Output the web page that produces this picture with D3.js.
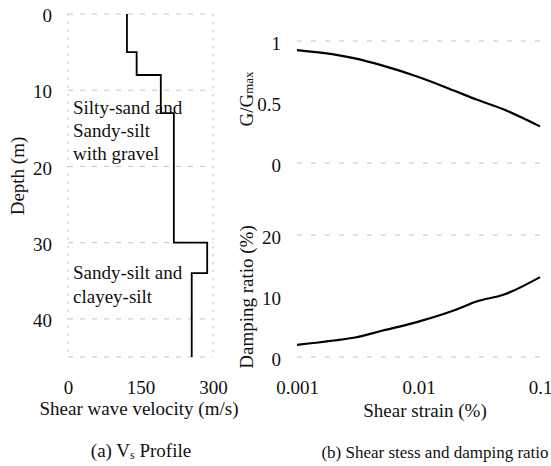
<!DOCTYPE html>
<html>
<head>
<meta charset="utf-8">
<script src="https://cdn.jsdelivr.net/npm/d3@7"></script>
</head>
<body style="margin:0;background:#fff">
<svg id="chart" width="551" height="466"></svg>
<script>
// Vs profile: layer tops/bottoms (m) and shear wave velocity (m/s)
const layerTop    = [0, 5, 8, 13, 30, 34];
const layerBottom = [5, 8, 13, 30, 34, 45];
const layerVs     = [122, 142, 192, 219, 288, 256];
const depthTicks  = [0, 10, 20, 30, 40];
const vsTicks     = [0, 150, 300];

// Modulus reduction and damping curves vs shear strain (%)
const strain   = [0.001, 0.002, 0.003, 0.005, 0.01, 0.02, 0.03, 0.05, 0.1];
const gRatio   = [0.925, 0.89, 0.857, 0.80, 0.705, 0.59, 0.52, 0.44, 0.30];
const damping  = [2.0, 2.7, 3.2, 4.3, 5.8, 7.7, 9.1, 10.2, 13.1];
const strainTicks  = [0.001, 0.01, 0.1];
const gTicks       = [0, 0.5, 1];
const dampingTicks = [0, 10, 20];

const svg = d3.select("#chart");
const gridColor = "#c4c4c4";
const fs = 19;

function styleText(sel, size) {
  sel.attr("font-family", "Liberation Serif").attr("font-size", size).attr("fill", "#111");
}

// ---------- (a) Vs profile ----------
const xVs = d3.scaleLinear().domain([0, 300]).range([68, 213]);
const yD  = d3.scaleLinear().domain([0, 45]).range([14, 357]);

const a = svg.append("g");
a.append("g").selectAll("line").data(depthTicks.concat([45])).join("line")
  .attr("x1", xVs(0)).attr("x2", xVs(300))
  .attr("y1", d => yD(d)).attr("y2", d => yD(d))
  .attr("stroke", gridColor).attr("stroke-width", 1).attr("stroke-dasharray", "5,7");
a.append("g").selectAll("line").data([0, 300]).join("line")
  .attr("x1", d => xVs(d)).attr("x2", d => xVs(d))
  .attr("y1", yD(0)).attr("y2", yD(45))
  .attr("stroke", gridColor).attr("stroke-width", 1).attr("stroke-dasharray", "2,6");

// step profile
const stepPts = [];
layerVs.forEach((v, i) => {
  stepPts.push([v, layerTop[i]]);
  stepPts.push([v, layerBottom[i]]);
});
a.append("path")
  .attr("d", d3.line().x(d => xVs(d[0])).y(d => yD(d[1]))(stepPts))
  .attr("fill", "none").attr("stroke", "#000").attr("stroke-width", 1.8);

const yAxisA = d3.axisLeft(yD).tickValues(depthTicks).tickSize(0).tickPadding(0);
a.append("g").attr("transform", "translate(52,1)").call(yAxisA)
  .call(g => g.select(".domain").remove())
  .selectAll("text").attr("dy", "0.35em").call(styleText, fs);
const xAxisA = d3.axisBottom(xVs).tickValues(vsTicks).tickSize(0).tickPadding(0);
a.append("g").attr("transform", "translate(0,379)").call(xAxisA)
  .call(g => g.select(".domain").remove())
  .selectAll("text").attr("dy", "0.8em").call(styleText, fs);

a.append("text").attr("transform", "translate(24,176) rotate(-90)")
  .attr("text-anchor", "middle").call(styleText, fs).text("Depth (m)");
a.append("text").attr("x", 139).attr("y", 415).attr("text-anchor", "middle")
  .call(styleText, fs).text("Shear wave velocity (m/s)");

// soil descriptions
const soil1 = ["Silty-sand and", "Sandy-silt", "with gravel"];
a.append("text").call(styleText, fs)
  .selectAll("tspan").data(soil1).join("tspan")
  .attr("x", 73).attr("y", (d, i) => 114 + i * 23).text(d => d);
const soil2 = ["Sandy-silt and", "clayey-silt"];
a.append("text").call(styleText, fs)
  .selectAll("tspan").data(soil2).join("tspan")
  .attr("x", 73).attr("y", (d, i) => 279 + i * 24).text(d => d);

const capA = a.append("text").attr("x", 141).attr("y", 457).attr("text-anchor", "middle").call(styleText, 19);
capA.append("tspan").text("(a) V");
capA.append("tspan").attr("font-size", 12).attr("dy", 2).text("s");
capA.append("tspan").attr("dy", -2).text(" Profile");

// ---------- (b) G/Gmax and damping ----------
const xS = d3.scaleLog().domain([0.001, 0.1]).range([297, 540]);
const yG = d3.scaleLinear().domain([0, 1]).range([163, 41]);
const yDm = d3.scaleLinear().domain([0, 20]).range([357, 235]);

const b = svg.append("g");
function hGrid(scale, ticks) {
  b.append("g").selectAll("line").data(ticks).join("line")
    .attr("x1", xS(0.001)).attr("x2", xS(0.1))
    .attr("y1", d => scale(d)).attr("y2", d => scale(d))
    .attr("stroke", gridColor).attr("stroke-width", 1).attr("stroke-dasharray", "5,9");
}
hGrid(yG, [0, 1]);
hGrid(yDm, [0, 20]);

b.append("path").datum(strain.map((s, i) => [s, gRatio[i]]))
  .attr("d", d3.line().curve(d3.curveMonotoneX).x(d => xS(d[0])).y(d => yG(d[1])))
  .attr("fill", "none").attr("stroke", "#000").attr("stroke-width", 2.2);
b.append("path").datum(strain.map((s, i) => [s, damping[i]]))
  .attr("d", d3.line().curve(d3.curveMonotoneX).x(d => xS(d[0])).y(d => yDm(d[1])))
  .attr("fill", "none").attr("stroke", "#000").attr("stroke-width", 2.2);

const yAxisG = d3.axisLeft(yG).tickValues(gTicks).tickSize(0).tickPadding(0).tickFormat(d3.format("~g"));
b.append("g").attr("transform", "translate(281,2)").call(yAxisG)
  .call(g => g.select(".domain").remove())
  .selectAll("text").attr("dy", "0.35em").call(styleText, fs);
const yAxisD = d3.axisLeft(yDm).tickValues(dampingTicks).tickSize(0).tickPadding(0);
b.append("g").attr("transform", "translate(281,2)").call(yAxisD)
  .call(g => g.select(".domain").remove())
  .selectAll("text").attr("dy", "0.35em").call(styleText, fs);
const xAxisB = d3.axisBottom(xS).tickValues(strainTicks).tickSize(0).tickPadding(0).tickFormat(d3.format("~g"));
b.append("g").attr("transform", "translate(0,379)").call(xAxisB)
  .call(g => g.select(".domain").remove())
  .selectAll("text").attr("dy", "0.8em").call(styleText, fs);

const gLab = b.append("text").attr("transform", "translate(253,99) rotate(-90)")
  .attr("text-anchor", "middle").call(styleText, fs);
gLab.append("tspan").text("G/G");
gLab.append("tspan").attr("font-size", 13).text("max");
b.append("text").attr("transform", "translate(253,297) rotate(-90)")
  .attr("text-anchor", "middle").call(styleText, fs).text("Damping ratio (%)");
b.append("text").attr("x", 425).attr("y", 417).attr("text-anchor", "middle")
  .call(styleText, fs).text("Shear strain (%)");
b.append("text").attr("x", 435).attr("y", 458).attr("text-anchor", "middle")
  .call(styleText, 17).text("(b) Shear stess and damping ratio");
</script>
</body>
</html>
